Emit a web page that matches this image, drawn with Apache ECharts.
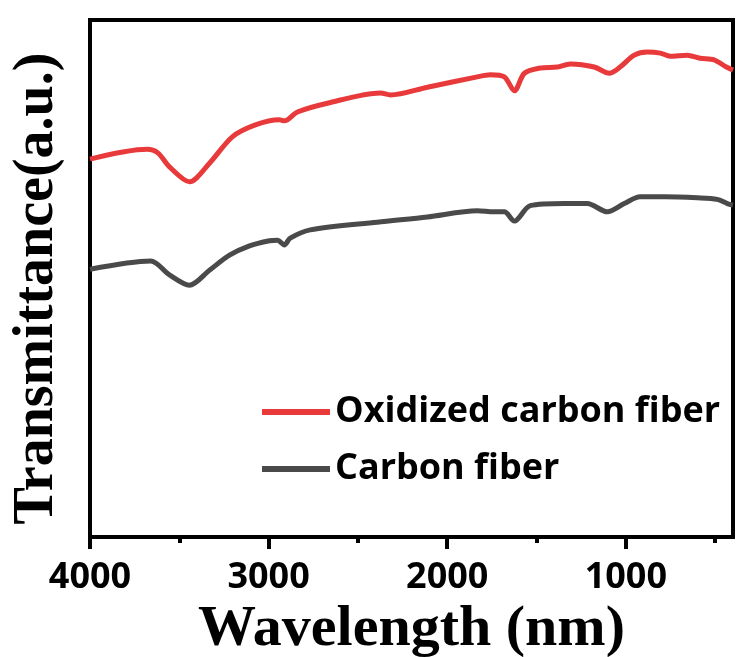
<!DOCTYPE html>
<html>
<head>
<meta charset="utf-8">
<script src="https://cdn.jsdelivr.net/npm/echarts@6/dist/echarts.min.js"></script>
<style>
html, body { margin: 0; padding: 0; background: #fff; }
#main { width: 736px; height: 657px; }
</style>
</head>
<body>
<div id="main"></div>
<script>
// wavelength (nm) and transmittance (a.u.)
var redWave = [4000, 3680, 3620, 3555, 3443, 3331, 3203, 3074, 2940, 2912, 2839, 2671, 2374, 2318, 2111, 1832, 1759, 1680, 1624, 1568, 1479, 1384, 1311, 1177, 1093, 1032, 953, 880, 807, 752, 657, 584, 506, 437, 400];
var redVals = [73.1, 75.0, 74.3, 71.6, 68.7, 72.3, 77.4, 79.7, 80.7, 80.5, 82.2, 83.9, 85.9, 85.5, 87.0, 89.0, 89.4, 89.0, 86.3, 89.7, 90.7, 90.9, 91.5, 90.9, 89.7, 90.9, 93.2, 93.8, 93.6, 93.0, 93.2, 92.6, 92.3, 90.9, 90.3];
var grayWave = [4000, 3660, 3555, 3443, 3331, 3219, 3107, 2995, 2951, 2912, 2879, 2767, 2392, 2111, 1832, 1740, 1680, 1624, 1535, 1345, 1216, 1104, 1009, 920, 785, 600, 488, 432, 400];
var grayVals = [51.8, 53.4, 50.7, 48.7, 51.6, 54.5, 56.3, 57.3, 57.4, 56.5, 57.8, 59.4, 60.9, 61.9, 63.1, 62.9, 62.9, 61.1, 64.1, 64.5, 64.5, 62.9, 64.5, 65.8, 65.8, 65.6, 65.3, 64.5, 64.2];
var majorTicks = [4000, 3000, 2000, 1000];
var minorTicks = [3500, 2500, 1500, 500];
var names = ['Oxidized carbon fiber', 'Carbon fiber'];

function pairs(xs, ys) {
    return xs.map(function (x, i) { return [x, ys[i]]; });
}

var myChart = echarts.init(document.getElementById('main'));
var labelFont = 'Open Sans';
var titleFont = 'Liberation Serif';

var option = {
    animation: false,
    grid: {
        left: 90, top: 20, right: 3, bottom: 120,
        containLabel: false,
        outerBoundsMode: 'none',
        show: true,
        borderColor: '#000',
        borderWidth: 4
    },
    legend: {
        orient: 'vertical',
        left: 262,
        top: 391,
        icon: 'rect',
        itemWidth: 68,
        itemHeight: 6,
        itemGap: 15,
        padding: 0,
        data: names,
        textStyle: {
            fontFamily: labelFont,
            fontWeight: 'bold',
            fontSize: 36,
            color: '#000',
            lineHeight: 42
        }
    },
    xAxis: [
        {
            type: 'value',
            min: 400,
            max: 4000,
            inverse: true,
            name: 'Wavelength (nm)',
            nameLocation: 'middle',
            nameGap: 62,
            nameTextStyle: {
                fontFamily: titleFont,
                fontWeight: 'bold',
                fontSize: 58,
                color: '#000'
            },
            axisLine: { show: false },
            splitLine: { show: false },
            axisTick: {
                show: true,
                customValues: majorTicks,
                length: 12,
                lineStyle: { color: '#000', width: 4 }
            },
            axisLabel: {
                customValues: majorTicks,
                margin: 23,
                fontFamily: labelFont,
                fontWeight: 'bold',
                fontSize: 36,
                color: '#000',
                formatter: function (v) { return String(v); }
            }
        },
        {
            type: 'value',
            min: 400,
            max: 4000,
            inverse: true,
            position: 'bottom',
            axisLine: { show: false },
            splitLine: { show: false },
            axisLabel: { show: false },
            axisTick: {
                show: true,
                customValues: minorTicks,
                length: 6,
                lineStyle: { color: '#000', width: 4 }
            }
        }
    ],
    yAxis: {
        type: 'value',
        min: 0,
        max: 100,
        name: 'Transmittance(a.u.)',
        nameLocation: 'middle',
        nameGap: 24,
        nameTextStyle: {
            fontFamily: titleFont,
            fontWeight: 'bold',
            fontSize: 56,
            color: '#000',
            padding: [0, 20, 0, 0]
        },
        axisLine: { show: false },
        axisTick: { show: false },
        axisLabel: { show: false },
        splitLine: { show: false }
    },
    series: [
        {
            name: names[0],
            type: 'line',
            showSymbol: false,
            smooth: 0.3,
            data: pairs(redWave, redVals),
            lineStyle: { color: '#e8393b', width: 5 },
            itemStyle: { color: '#e8393b' }
        },
        {
            name: names[1],
            type: 'line',
            showSymbol: false,
            smooth: 0.3,
            data: pairs(grayWave, grayVals),
            lineStyle: { color: '#4a4a4a', width: 5 },
            itemStyle: { color: '#4a4a4a' }
        }
    ]
};
myChart.setOption(option);
</script>
</body>
</html>
